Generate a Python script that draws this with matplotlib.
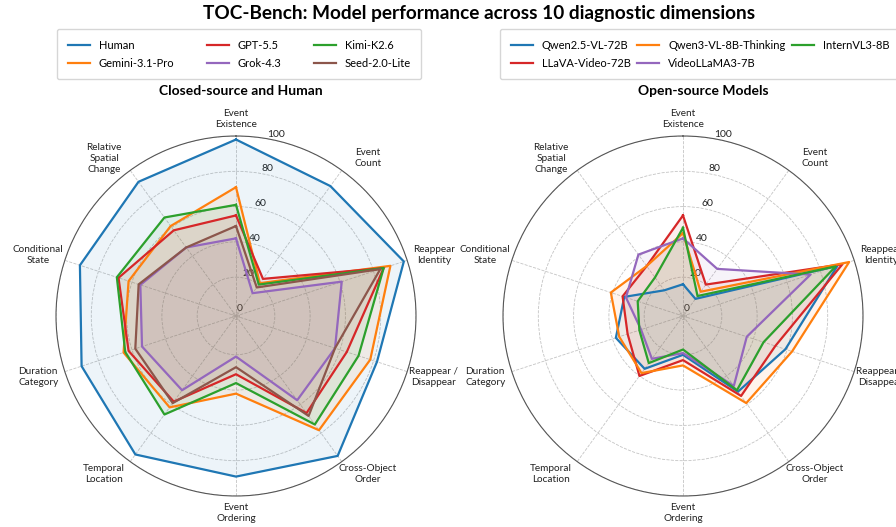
import numpy as np
import matplotlib.pyplot as plt

plt.rcParams['font.family'] = ['Lato', 'DejaVu Sans']

# ---- donnees ----
dimensions = ["Event\nExistence", "Event\nCount", "Reappear\nIdentity", "Reappear /\nDisappear",
              "Cross-Object\nOrder", "Event\nOrdering", "Temporal\nLocation", "Duration\nCategory",
              "Conditional\nState", "Relative\nSpatial\nChange"]

# Closed-source + Human
closed_names = ["Human", "Gemini-3.1-Pro", "GPT-5.5", "Grok-4.3", "Kimi-K2.6", "Seed-2.0-Lite"]
human = [98, 89, 98, 82, 96, 89, 95, 90, 91, 92]
gemini = [71, 21, 90, 78, 78, 42, 62, 65, 62, 61]
gpt = [55, 24, 86, 64, 66, 31, 58, 62, 68, 58]
grok = [42, 14, 61, 57, 57, 21, 50, 54, 55, 46]
kimi = [61, 20, 86, 71, 74, 36, 67, 64, 69, 67]
seed = [49, 18, 84, 57, 68, 27, 59, 58, 56, 46]
closed_colors = ["#1f77b4", "#ff7f0e", "#d62728", "#9467bd", "#2ca02c", "#8c564b"]

# Open-source
open_names = ["Qwen2.5-VL-72B", "LLaVA-Video-72B", "Qwen3-VL-8B-Thinking", "VideoLLaMA3-7B", "InternVL3-8B"]
qwen25 = [16, 10, 90, 59, 51, 20, 35, 38, 33, 16]
llava = [55, 20, 93, 53, 54, 23, 40, 31, 34, 33]
qwen3 = [45, 15, 97, 63, 59, 26, 38, 36, 41, 33]
videollama = [42, 31, 74, 36, 47, 19, 28, 23, 32, 41]
internvl = [48, 12, 89, 46, 50, 17, 31, 24, 25, 25]
open_colors = ["#1f77b4", "#d62728", "#ff7f0e", "#9467bd", "#2ca02c"]

r_ticks = [0, 20, 40, 60, 80, 100]


# trace un radar dans un axe polaire
def radar(ax, names, series, colors):
    angles = np.linspace(0, 2 * np.pi, len(dimensions), endpoint=False)
    ax.set_theta_zero_location('N')
    ax.set_theta_direction(-1)
    for name, vals, col in zip(names, series, colors):
        a = np.append(angles, angles[0])
        v = np.append(vals, vals[0])
        ax.plot(a, v, color=col, linewidth=1.6, label=name, zorder=3)
        ax.fill(a, v, color=col, alpha=0.08, zorder=2)
    ax.set_ylim(-2, 100)
    ax.set_yticks(r_ticks)
    ax.set_yticklabels([str(t) for t in r_ticks], fontsize=7.5, color='#222222')
    ax.set_rlabel_position(10)
    ax.set_xticks(angles)
    ax.set_xticklabels([])
    # noms des dimensions : un peu plus loin et tires vers l'horizontale sur les diagonales
    for ang, lab in zip(angles, dimensions):
        s, c = np.sin(ang), np.cos(ang)
        shift = np.deg2rad(4.5 * abs(np.sin(2 * ang)) ** 3) * np.sign(s * c)
        ax.text(ang + shift, 109.6 + 5.7 * abs(s) ** 0.3, lab, ha='center', va='center',
                fontsize=7.2, color='#222222', linespacing=1.3)
    ax.grid(color='#c4c4c4', linestyle='--', linewidth=0.6)
    ax.spines['polar'].set_color('#555555')
    ax.spines['polar'].set_linewidth(0.8)


fig = plt.figure(figsize=(8.96, 5.27), dpi=100)
W, H = 896, 527

ax1 = fig.add_axes([56 / W, (H - 496) / H, 360 / W, 360 / H], projection='polar')
ax2 = fig.add_axes([503 / W, (H - 496) / H, 360 / W, 360 / H], projection='polar')

radar(ax1, closed_names, [human, gemini, gpt, grok, kimi, seed], closed_colors)
radar(ax2, open_names, [qwen25, llava, qwen3, videollama, internvl], open_colors)

fig.text(479 / W, 1 - 13 / H, "TOC-Bench: Model performance across 10 diagnostic dimensions",
         ha='center', va='center', fontsize=13.7, fontweight='bold')
fig.text(241 / W, 1 - 91 / H, "Closed-source and Human", ha='center', va='center',
         fontsize=10, fontweight='bold')
fig.text(703 / W, 1 - 91 / H, "Open-source Models", ha='center', va='center',
         fontsize=10, fontweight='bold')

leg_style = dict(ncol=3, fontsize=8, frameon=True, fancybox=True, edgecolor='#cccccc',
                 handlelength=2.0, handletextpad=0.8, labelspacing=0.65,
                 borderpad=0.95, borderaxespad=0, loc='upper left')
h1, l1 = ax1.get_legend_handles_labels()
fig.legend(h1, l1, bbox_to_anchor=(57 / W, 1 - 29 / H), columnspacing=2.9, **leg_style)
h2, l2 = ax2.get_legend_handles_labels()
fig.legend(h2, l2, bbox_to_anchor=(500 / W, 1 - 29 / H), columnspacing=0.6, **leg_style)

fig.savefig("out.png", dpi=100)
